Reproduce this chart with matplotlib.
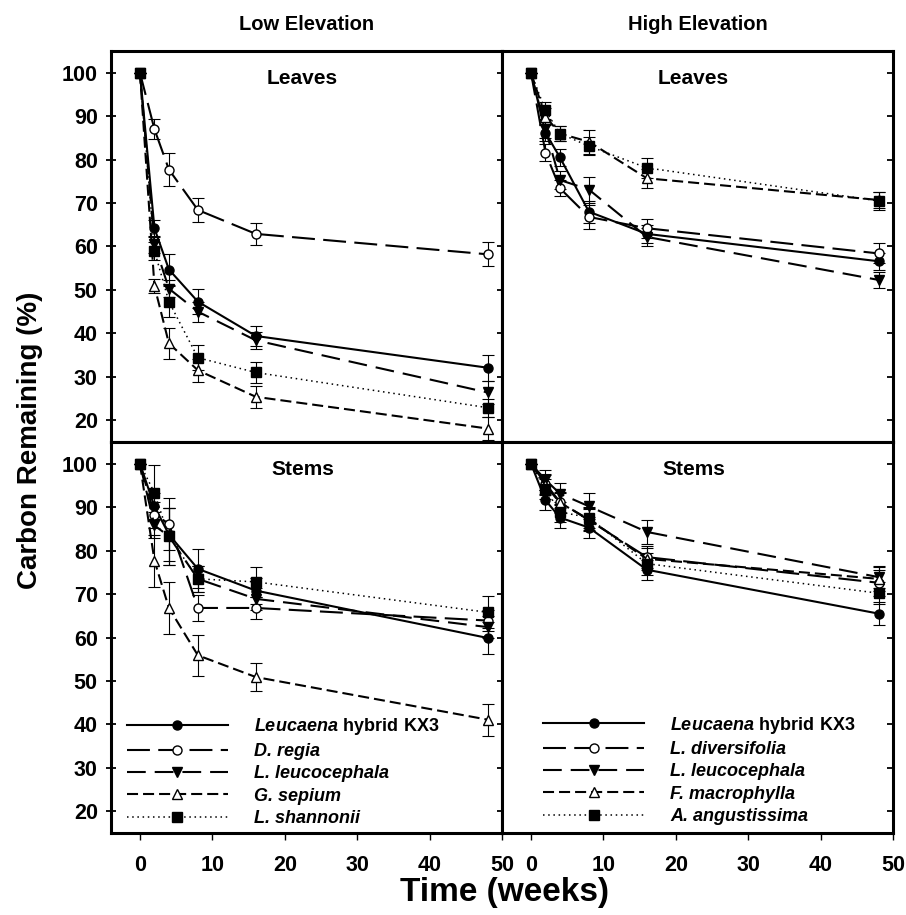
import numpy as np
import matplotlib
matplotlib.use("Agg")
import matplotlib.pyplot as plt

plt.rcParams["font.family"] = ["Liberation Sans", "DejaVu Sans"]
plt.rcParams["font.weight"] = "bold"
plt.rcParams["mathtext.fontset"] = "custom"
plt.rcParams["mathtext.bf"] = "Liberation Sans:bold"
plt.rcParams["mathtext.rm"] = "Liberation Sans:bold"

# sampling times (weeks)
weeks = [0, 2, 4, 8, 16, 48]

# ---- Low elevation, leaves ----
low_leaf_kx3 = [100, 64.2, 54.7, 47.3, 39.4, 32.1]
low_leaf_kx3_err = [0, 2.0, 3.6, 2.8, 2.4, 3.0]
low_leaf_dreg = [100, 87.0, 77.7, 68.4, 62.9, 58.2]
low_leaf_dreg_err = [0, 2.3, 3.8, 2.8, 2.6, 2.8]
low_leaf_lleu = [100, 60.5, 50.3, 45.0, 38.4, 26.4]
low_leaf_lleu_err = [0, 2.0, 2.0, 2.3, 2.0, 2.7]
low_leaf_gsep = [100, 50.9, 37.7, 31.5, 25.4, 18.1]
low_leaf_gsep_err = [0, 1.5, 3.6, 2.7, 2.5, 2.7]
low_leaf_lsha = [100, 59.0, 47.3, 34.4, 31.0, 22.9]
low_leaf_lsha_err = [0, 2.0, 3.6, 2.9, 2.5, 2.1]

# ---- High elevation, leaves ----
high_leaf_kx3 = [100, 86.2, 80.5, 68.0, 62.9, 56.6]
high_leaf_kx3_err = [0, 2.0, 2.0, 2.5, 2.0, 2.0]
high_leaf_ldiv = [100, 81.6, 73.4, 66.8, 64.2, 58.4]
high_leaf_ldiv_err = [0, 2.0, 1.8, 2.8, 2.2, 2.3]
high_leaf_lleu = [100, 87.0, 75.3, 73.1, 62.2, 52.3]
high_leaf_lleu_err = [0, 2.0, 2.0, 3.0, 2.0, 1.8]
high_leaf_fmac = [100, 89.9, 86.0, 84.1, 75.7, 70.7]
high_leaf_fmac_err = [0, 2.0, 1.8, 2.8, 2.2, 1.8]
high_leaf_aang = [100, 91.3, 86.0, 83.1, 78.1, 70.5]
high_leaf_aang_err = [0, 2.0, 1.8, 2.0, 2.3, 2.0]

# ---- Low elevation, stems ----
low_stem_kx3 = [100, 90.2, 83.7, 75.8, 70.8, 59.9]
low_stem_kx3_err = [0, 3.0, 6.0, 4.5, 3.0, 3.7]
low_stem_dreg = [100, 88.3, 86.2, 66.8, 66.8, 63.9]
low_stem_dreg_err = [0, 3.0, 6.0, 3.0, 2.5, 2.5]
low_stem_lleu = [100, 85.8, 83.3, 73.5, 68.9, 62.4]
low_stem_lleu_err = [0, 3.0, 6.5, 3.0, 2.5, 2.5]
low_stem_gsep = [100, 77.7, 66.8, 55.9, 50.9, 41.1]
low_stem_gsep_err = [0, 6.0, 6.0, 4.7, 3.3, 3.7]
low_stem_lsha = [100, 93.3, 83.3, 73.5, 72.8, 65.8]
low_stem_lsha_err = [0, 6.3, 6.5, 3.0, 3.4, 3.7]

# ---- High elevation, stems ----
high_stem_kx3 = [100, 91.6, 87.6, 85.3, 75.6, 65.5]
high_stem_kx3_err = [0, 2.3, 2.3, 2.5, 2.3, 2.7]
high_stem_ldiv = [100, 95.4, 91.2, 87.0, 78.5, 72.6]
high_stem_ldiv_err = [0, 2.3, 2.3, 2.5, 2.5, 3.0]
high_stem_lleu = [100, 96.3, 93.1, 90.2, 84.3, 73.9]
high_stem_lleu_err = [0, 2.3, 2.5, 3.0, 2.7, 2.5]
high_stem_fmac = [100, 95.0, 91.0, 87.2, 78.1, 73.5]
high_stem_fmac_err = [0, 2.3, 2.3, 2.5, 2.5, 2.8]
high_stem_aang = [100, 94.2, 88.9, 87.6, 77.0, 70.2]
high_stem_aang_err = [0, 2.3, 2.3, 2.5, 2.5, 2.5]

low_names = [r"Leucaena $\mathbf{hybrid\ KX3}$", "D. regia", "L. leucocephala",
             "G. sepium", "L. shannonii"]
high_names = [r"Leucaena $\mathbf{hybrid\ KX3}$", "L. diversifolia", "L. leucocephala",
              "F. macrophylla", "A. angustissima"]

# line style per species slot: (dashes, marker, facecolor, linewidth)
styles = [
    ((), "o", "black", 1.5),
    ((11, 4), "o", "white", 1.5),
    ((9, 4.3), "v", "black", 1.5),
    ((5.3, 2.4), "^", "white", 1.5),
    ((1, 2.4), "s", "black", 1.1),
]

panels = [
    (0, 0, [low_leaf_kx3, low_leaf_dreg, low_leaf_lleu, low_leaf_gsep, low_leaf_lsha],
     [low_leaf_kx3_err, low_leaf_dreg_err, low_leaf_lleu_err, low_leaf_gsep_err, low_leaf_lsha_err],
     "Leaves", None),
    (0, 1, [high_leaf_kx3, high_leaf_ldiv, high_leaf_lleu, high_leaf_fmac, high_leaf_aang],
     [high_leaf_kx3_err, high_leaf_ldiv_err, high_leaf_lleu_err, high_leaf_fmac_err, high_leaf_aang_err],
     "Leaves", None),
    (1, 0, [low_stem_kx3, low_stem_dreg, low_stem_lleu, low_stem_gsep, low_stem_lsha],
     [low_stem_kx3_err, low_stem_dreg_err, low_stem_lleu_err, low_stem_gsep_err, low_stem_lsha_err],
     "Stems", low_names),
    (1, 1, [high_stem_kx3, high_stem_ldiv, high_stem_lleu, high_stem_fmac, high_stem_aang],
     [high_stem_kx3_err, high_stem_ldiv_err, high_stem_lleu_err, high_stem_fmac_err, high_stem_aang_err],
     "Stems", high_names),
]

fig, axes = plt.subplots(2, 2, figsize=(9.06, 9.15), dpi=100, sharex=True, sharey=True)
fig.subplots_adjust(left=0.1225, right=0.9857, top=0.9443, bottom=0.0896,
                    wspace=0, hspace=0)

for row, col, series, errs, title, names in panels:
    ax = axes[row, col]
    handles = []
    for i, (vals, err) in enumerate(zip(series, errs)):
        dashes, marker, face, lw = styles[i]
        ax.errorbar(weeks, vals, yerr=err, fmt="none", ecolor="black",
                    elinewidth=0.8, capsize=4, capthick=0.8, zorder=2)
        if dashes:
            line, = ax.plot(weeks, vals, color="black", lw=lw, dashes=dashes,
                            marker=marker, ms=6.5, mfc=face, mec="black",
                            mew=1.0, zorder=3)
        else:
            line, = ax.plot(weeks, vals, color="black", lw=lw, ls="-",
                            marker=marker, ms=6.5, mfc=face, mec="black",
                            mew=1.0, zorder=3)
        handles.append(line)

    ax.set_xlim(-4, 50)
    ax.set_ylim(15, 105)
    ax.set_yticks(np.arange(20, 101, 10))
    ax.set_xticks(np.arange(0, 51, 10))
    for s in ax.spines.values():
        s.set_linewidth(2.2)

    ax.text(0.49, 0.93, title, transform=ax.transAxes, ha="center", va="center",
            fontsize=15, fontweight="bold")

    if col == 0:
        ax.tick_params(axis="y", which="both", left=True, right=True,
                       direction="inout", length=7, width=1.3, labelsize=15.5, pad=6)
    else:
        ax.tick_params(axis="y", which="both", left=False, right=True,
                       direction="in", length=4, width=1.3, labelleft=False)
    if row == 1:
        ax.tick_params(axis="x", direction="out", length=5, width=1.0,
                       labelsize=15.5, pad=11)
    else:
        ax.tick_params(axis="x", bottom=False, labelbottom=False)

    if names is not None:
        anchor = (0.04, 0.298) if col == 0 else (0.105, 0.303)
        ax.legend(handles, names, loc="upper left", bbox_to_anchor=anchor,
                  frameon=False, numpoints=1, handlelength=5.6,
                  handletextpad=1.45, labelspacing=0.3, borderpad=0,
                  borderaxespad=0,
                  prop={"family": "Liberation Sans", "weight": "bold",
                        "style": "italic", "size": 13})

fig.text(306.5 / 906, 1 - 25 / 915, "Low Elevation", ha="center", va="center",
         fontsize=14.5, fontweight="bold")
fig.text(697.5 / 906, 1 - 25 / 915, "High Elevation", ha="center", va="center",
         fontsize=14.5, fontweight="bold")
fig.text(30 / 906, 0.519, "Carbon Remaining (%)", rotation=90, ha="center",
         va="center", fontsize=20, fontweight="bold")
fig.text(505 / 906, 1 - 893 / 915, "Time (weeks)", ha="center", va="center",
         fontsize=24, fontweight="bold")

fig.savefig("out.png", dpi=100)
